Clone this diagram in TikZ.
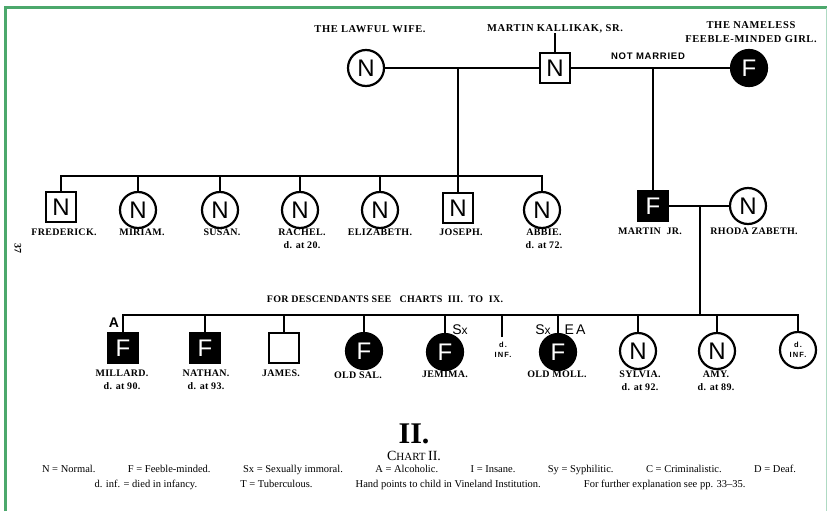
\documentclass[tikz,border=0pt]{standalone}
\usepackage{fontspec}
\setmainfont{Liberation Serif}
\newfontfamily\sansf{Liberation Sans}
\newfontfamily\sansls[LetterSpace=8]{Liberation Sans}
\newfontfamily\sanswide[LetterSpace=15]{Liberation Sans}
\newfontfamily\lblf[LetterSpace=3]{Liberation Serif}
\newfontfamily\toplf[LetterSpace=6]{Liberation Serif}
\definecolor{framegreen}{RGB}{76,168,108}
\definecolor{framelt}{RGB}{175,218,195}
\begin{document}
\begin{tikzpicture}[x=1pt,y=-1pt,
  ln/.style={line width=1.8pt},
  sym/.style={draw, line width=2.2pt, inner sep=0pt, font=\sansf\fontsize{24}{24}\selectfont},
  sq/.style={sym, rectangle, minimum size=30pt},
  ci/.style={sym, circle, minimum size=36pt},
  blk/.style={fill=black, text=white},
  nm/.style={font=\lblf\bfseries\fontsize{10}{13}\selectfont, align=center, inner sep=0pt, anchor=north},
  topnm/.style={nm, font=\toplf\bfseries\fontsize{10.5}{14}\selectfont},
  tag/.style={font=\sansf\fontsize{14}{14}\selectfont, inner sep=0pt},
  tiny/.style={font=\sanswide\bfseries\fontsize{7.5}{10}\selectfont, inner sep=0pt, align=center},
  legend/.style={font=\fontsize{10.5}{12}\selectfont, inner sep=0pt},
]
\useasboundingbox (0,0) rectangle (829,511);
\fill[white] (0,0) rectangle (829,511);
% frame
\draw[framegreen, line width=3pt] (5,511) -- (5,8) -- (827,8);
\draw[framelt, line width=1pt] (826,8) -- (826,511);

% ---- first generation ----
\node[ci] (wife) at (366,68) {N};
\node[sq] (sr) at (555,68) {N};
\node[ci,blk] (girl) at (749,68) {F};
\node[topnm] (wifel) at (370,25) {THE LAWFUL WIFE.};
\node[topnm] (srl) at (555,24) {MARTIN KALLIKAK, SR.};
\node[topnm] (girll) at (751,21) {THE NAMELESS\\FEEBLE-MINDED GIRL.};
\node[font=\sansls\bfseries\fontsize{9.5}{10}\selectfont, inner sep=0pt] (nm1) at (648,56) {NOT MARRIED};
\draw[ln] (sr.north) -- (sr.north |- srl.south);
\draw[ln] (wife) -- (sr);
\draw[ln] (sr) -- (girl);

% ---- lawful children ----
\coordinate (m1) at (458,68);
\coordinate (bar1) at (0,176);
\node[sq] (fred) at (61,207) {N};
\node[ci] (miriam) at (138,210) {N};
\node[ci] (susan) at (220,210) {N};
\node[ci] (rachel) at (300,210) {N};
\node[ci] (eliz) at (380,210) {N};
\node[sq] (joseph) at (458,208) {N};
\node[ci] (abbie) at (542,210) {N};
\draw[ln] (m1) -- (m1 |- bar1);
\draw[ln] (fred.north) -- (fred.north |- bar1) -- (abbie.north |- bar1) -- (abbie.north);
\foreach \c in {miriam,susan,rachel,eliz,joseph}
  \draw[ln] (\c.north) -- (\c.north |- bar1);
\node[nm] (fredl) at (64,229) {FREDERICK.};
\node[nm] (miriaml) at (142,229) {MIRIAM.};
\node[nm] (susanl) at (222,229) {SUSAN.};
\node[nm] (rachell) at (302,229) {RACHEL.\\d. at 20.};
\node[nm] (elizl) at (380,229) {ELIZABETH.};
\node[nm] (josephl) at (461,229) {JOSEPH.};
\node[nm] (abbiel) at (544,229) {ABBIE.\\d. at 72.};
\node[rotate=-90, font=\bfseries\fontsize{10}{10}\selectfont, inner sep=0pt] (pg) at (18,248) {37};

% ---- Martin Jr ----
\coordinate (m2) at (653,68);
\node[sq,blk] (mj) at (653,206) {F};
\node[ci] (rhoda) at (748,206) {N};
\draw[ln] (m2) -- (mj.north);
\draw[ln] (mj) -- (rhoda);
\node[nm] (mjl) at (650,228) {MARTIN\ \ JR.};
\node[nm] (rhodal) at (754,228) {RHODA ZABETH.};

% ---- third generation ----
\coordinate (m3) at (700,206);
\coordinate (bar2) at (0,315);
\node[nm, font=\lblf\bfseries\fontsize{10}{10}\selectfont] (desc) at (385,296) {FOR DESCENDANTS SEE\ \ \ CHARTS\ \ III.\ \ TO\ \ IX.};
\node[sq,blk] (millard) at (123,348) {F};
\node[sq,blk] (nathan) at (205,348) {F};
\node[sq] (james) at (284,348) {};
\node[ci,blk] (sal) at (364,351) {F};
\node[ci,blk] (jemima) at (445,352) {F};
\coordinate (dinf) at (502,337);
\node[ci,blk] (moll) at (558,352) {F};
\node[ci] (sylvia) at (638,351) {N};
\node[ci] (amy) at (717,351) {N};
\node[ci, tiny] (last) at (798,350) {d.\\INF.};
\draw[ln] (m3) -- (m3 |- bar2);
\draw[ln] (millard.north) -- (millard.north |- bar2) -- (last.north |- bar2) -- (last.north);
\foreach \c in {nathan,james,sal,jemima,moll,sylvia,amy}
  \draw[ln] (\c.north) -- (\c.north |- bar2);
\draw[ln] (dinf) -- (dinf |- bar2);
\node[tiny] (dinfl) at (503,350) {d.\\INF.};
\node[tag, font=\sansf\bfseries\fontsize{14}{14}\selectfont] (tA) at (114,323) {A};
\node[tag] (tSx1) at (460,330) {S{\fontsize{12}{12}\selectfont x}};
\node[tag] (tSx2) at (543,330) {S{\fontsize{12}{12}\selectfont x}};
\node[tag] (tEA) at (575,330) {E\,A};

\node[nm] (millardl) at (122,370) {MILLARD.\\d. at 90.};
\node[nm] (nathanl) at (206,370) {NATHAN.\\d. at 93.};
\node[nm] (jamesl) at (281,370) {JAMES.};
\node[nm] (sall) at (358,372) {OLD SAL.};
\node[nm] (jemimal) at (445,371) {JEMIMA.};
\node[nm] (molll) at (557,371) {OLD MOLL.};
\node[nm] (sylvial) at (640,371) {SYLVIA.\\d. at 92.};
\node[nm] (amyl) at (716,371) {AMY.\\d. at 89.};

% ---- caption ----
\node[font=\bfseries\fontsize{30}{30}\selectfont, inner sep=0pt] (title) at (414,434) {II.};
\node[inner sep=0pt] (chart) at (414,456) {{\fontsize{14}{14}\selectfont C}{\fontsize{11}{11}\selectfont HART} {\fontsize{14}{14}\selectfont II.}};
\node[legend] (leg1) at (419,470) {\makebox[754pt][s]{N = Normal.\hfill F = Feeble-minded.\hfill Sx = Sexually immoral.\hfill A = Alcoholic.\hfill I = Insane.\hfill Sy = Syphilitic.\hfill C = Criminalistic.\hfill D = Deaf.}};
\node[legend] (leg2) at (420,485) {\makebox[651pt][s]{d. inf. = died in infancy.\hfill T = Tuberculous.\hfill Hand points to child in Vineland Institution.\hfill For further explanation see pp. 33--35.}};
\end{tikzpicture}
\end{document}
